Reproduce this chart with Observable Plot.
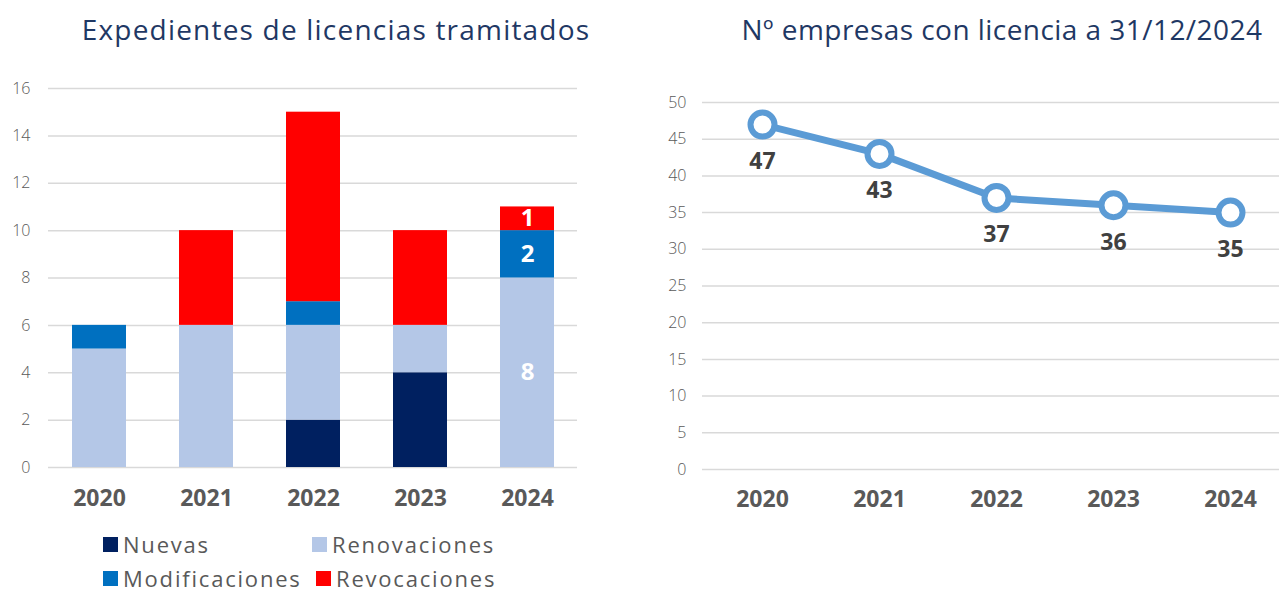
<!DOCTYPE html>
<html><head><meta charset="utf-8">
<script src="https://cdn.jsdelivr.net/npm/d3@7"></script>
<script src="https://cdn.jsdelivr.net/npm/@observablehq/plot@0.6"></script>
<style>
html,body{margin:0;padding:0;background:#fff;overflow:hidden;width:1279px;height:594px;font-family:"Open Sans",sans-serif;}
.title{position:absolute;color:#1F3864;font-size:28px;white-space:nowrap;transform:translateX(-50%);}
#left{position:absolute;left:0;top:60px;width:640px;height:460px;}
#right{position:absolute;left:640px;top:60px;width:650px;height:460px;}
#left svg,#right svg{max-width:none !important;}
.leg{position:absolute;display:flex;align-items:center;color:#595959;font-size:22px;line-height:22px;letter-spacing:1.8px;white-space:nowrap;}
.sw{width:15px;height:15px;margin-right:5px;}
</style></head>
<body>
<div class="title" style="left:336px;top:10px;letter-spacing:1.2px">Expedientes de licencias tramitados</div>
<div class="title" style="left:1002px;top:10px;letter-spacing:0.45px">Nº empresas con licencia a 31/12/2024</div>
<div id="left"></div>
<div id="right"></div>
<div id="legend"></div>
<script>
const years = ["2020","2021","2022","2023","2024"];
const seriesNames = ["Nuevas","Renovaciones","Modificaciones","Revocaciones"];
const nuevas = [0,0,2,4,0];
const renovaciones = [5,6,4,2,8];
const modificaciones = [1,0,1,0,2];
const revocaciones = [0,4,8,4,1];
const seriesColors = ["#002060","#B4C7E7","#0070C0","#FF0000"];
const leftTicks = [0,2,4,6,8,10,12,14,16];
const empresas = [47,43,37,36,35];
const rightTicks = [0,5,10,15,20,25,30,35,40,45,50];
const labeledYear = "2024";

const seriesValues = [nuevas, renovaciones, modificaciones, revocaciones];
const barData = [];
years.forEach((y, i) => seriesNames.forEach((s, j) => barData.push({year: y, series: s, value: seriesValues[j][i]})));

const font = '"Open Sans", sans-serif';
const xAxisStyle = {tickSize: 0, fontSize: 23, fontWeight: "bold", fill: "#595959", letterSpacing: "1px"};
const yAxisStyle = {tickSize: 0, fontSize: 16, fontWeight: 300, fill: "#595959", letterSpacing: "0.5px"};

const left = Plot.plot({
  width: 640, height: 460,
  marginLeft: 48, marginRight: 63, marginTop: 28, marginBottom: 53,
  style: {fontFamily: font, background: "transparent", overflow: "visible"},
  x: {domain: years, paddingInner: 0.5, paddingOuter: 0.22, label: null},
  y: {domain: [0,16], label: null},
  color: {domain: seriesNames, range: seriesColors},
  marks: [
    Plot.ruleY(leftTicks, {stroke: "#d9d9d9", strokeWidth: 1.5}),
    Plot.barY(barData, {x: "year", y: "value", fill: "series", order: seriesNames}),
    Plot.text(barData, Plot.stackY({x: "year", y: "value", z: "series", order: seriesNames,
      text: d => (d.year === labeledYear && d.value > 0) ? String(d.value) : null,
      fill: "white", fontWeight: "bold", fontSize: 24})),
    Plot.axisX({...xAxisStyle, tickPadding: 22}),
    Plot.axisY({...yAxisStyle, ticks: leftTicks, tickPadding: 18})
  ],
  axis: null
});
document.getElementById("left").appendChild(left);

const lineData = years.map((y, i) => ({year: y, value: empresas[i]}));
const right = Plot.plot({
  width: 650, height: 460,
  marginLeft: 62, marginRight: 1, marginTop: 42, marginBottom: 51,
  style: {fontFamily: font, background: "transparent", overflow: "visible"},
  x: {type: "point", domain: years, padding: 0.5, label: null},
  y: {domain: [0,50], label: null},
  marks: [
    Plot.ruleY(rightTicks, {stroke: "#d9d9d9", strokeWidth: 1.5}),
    Plot.line(lineData, {x: "year", y: "value", stroke: "#5B9BD5", strokeWidth: 7}),
    Plot.dot(lineData, {x: "year", y: "value", r: 12, fill: "white", stroke: "#5B9BD5", strokeWidth: 6}),
    Plot.text(lineData, {x: "year", y: "value", text: d => String(d.value), dy: 37, fontSize: 23, fontWeight: "bold", fill: "#404040", letterSpacing: "0.5px"}),
    Plot.axisX({...xAxisStyle, tickPadding: 21}),
    Plot.axisY({...yAxisStyle, ticks: rightTicks, tickPadding: 16})
  ],
  axis: null
});
document.getElementById("right").appendChild(right);

const legPos = [[103,544],[312,544],[103,578],[316,578]];
const legend = document.getElementById("legend");
seriesNames.forEach((s, i) => {
  const el = document.createElement("div");
  el.className = "leg";
  el.style.left = legPos[i][0] + "px";
  el.style.top = (legPos[i][1] - 11) + "px";
  el.style.height = "22px";
  el.innerHTML = `<div class="sw" style="background:${seriesColors[i]}"></div><span>${s}</span>`;
  legend.appendChild(el);
});
</script>
</body></html>
